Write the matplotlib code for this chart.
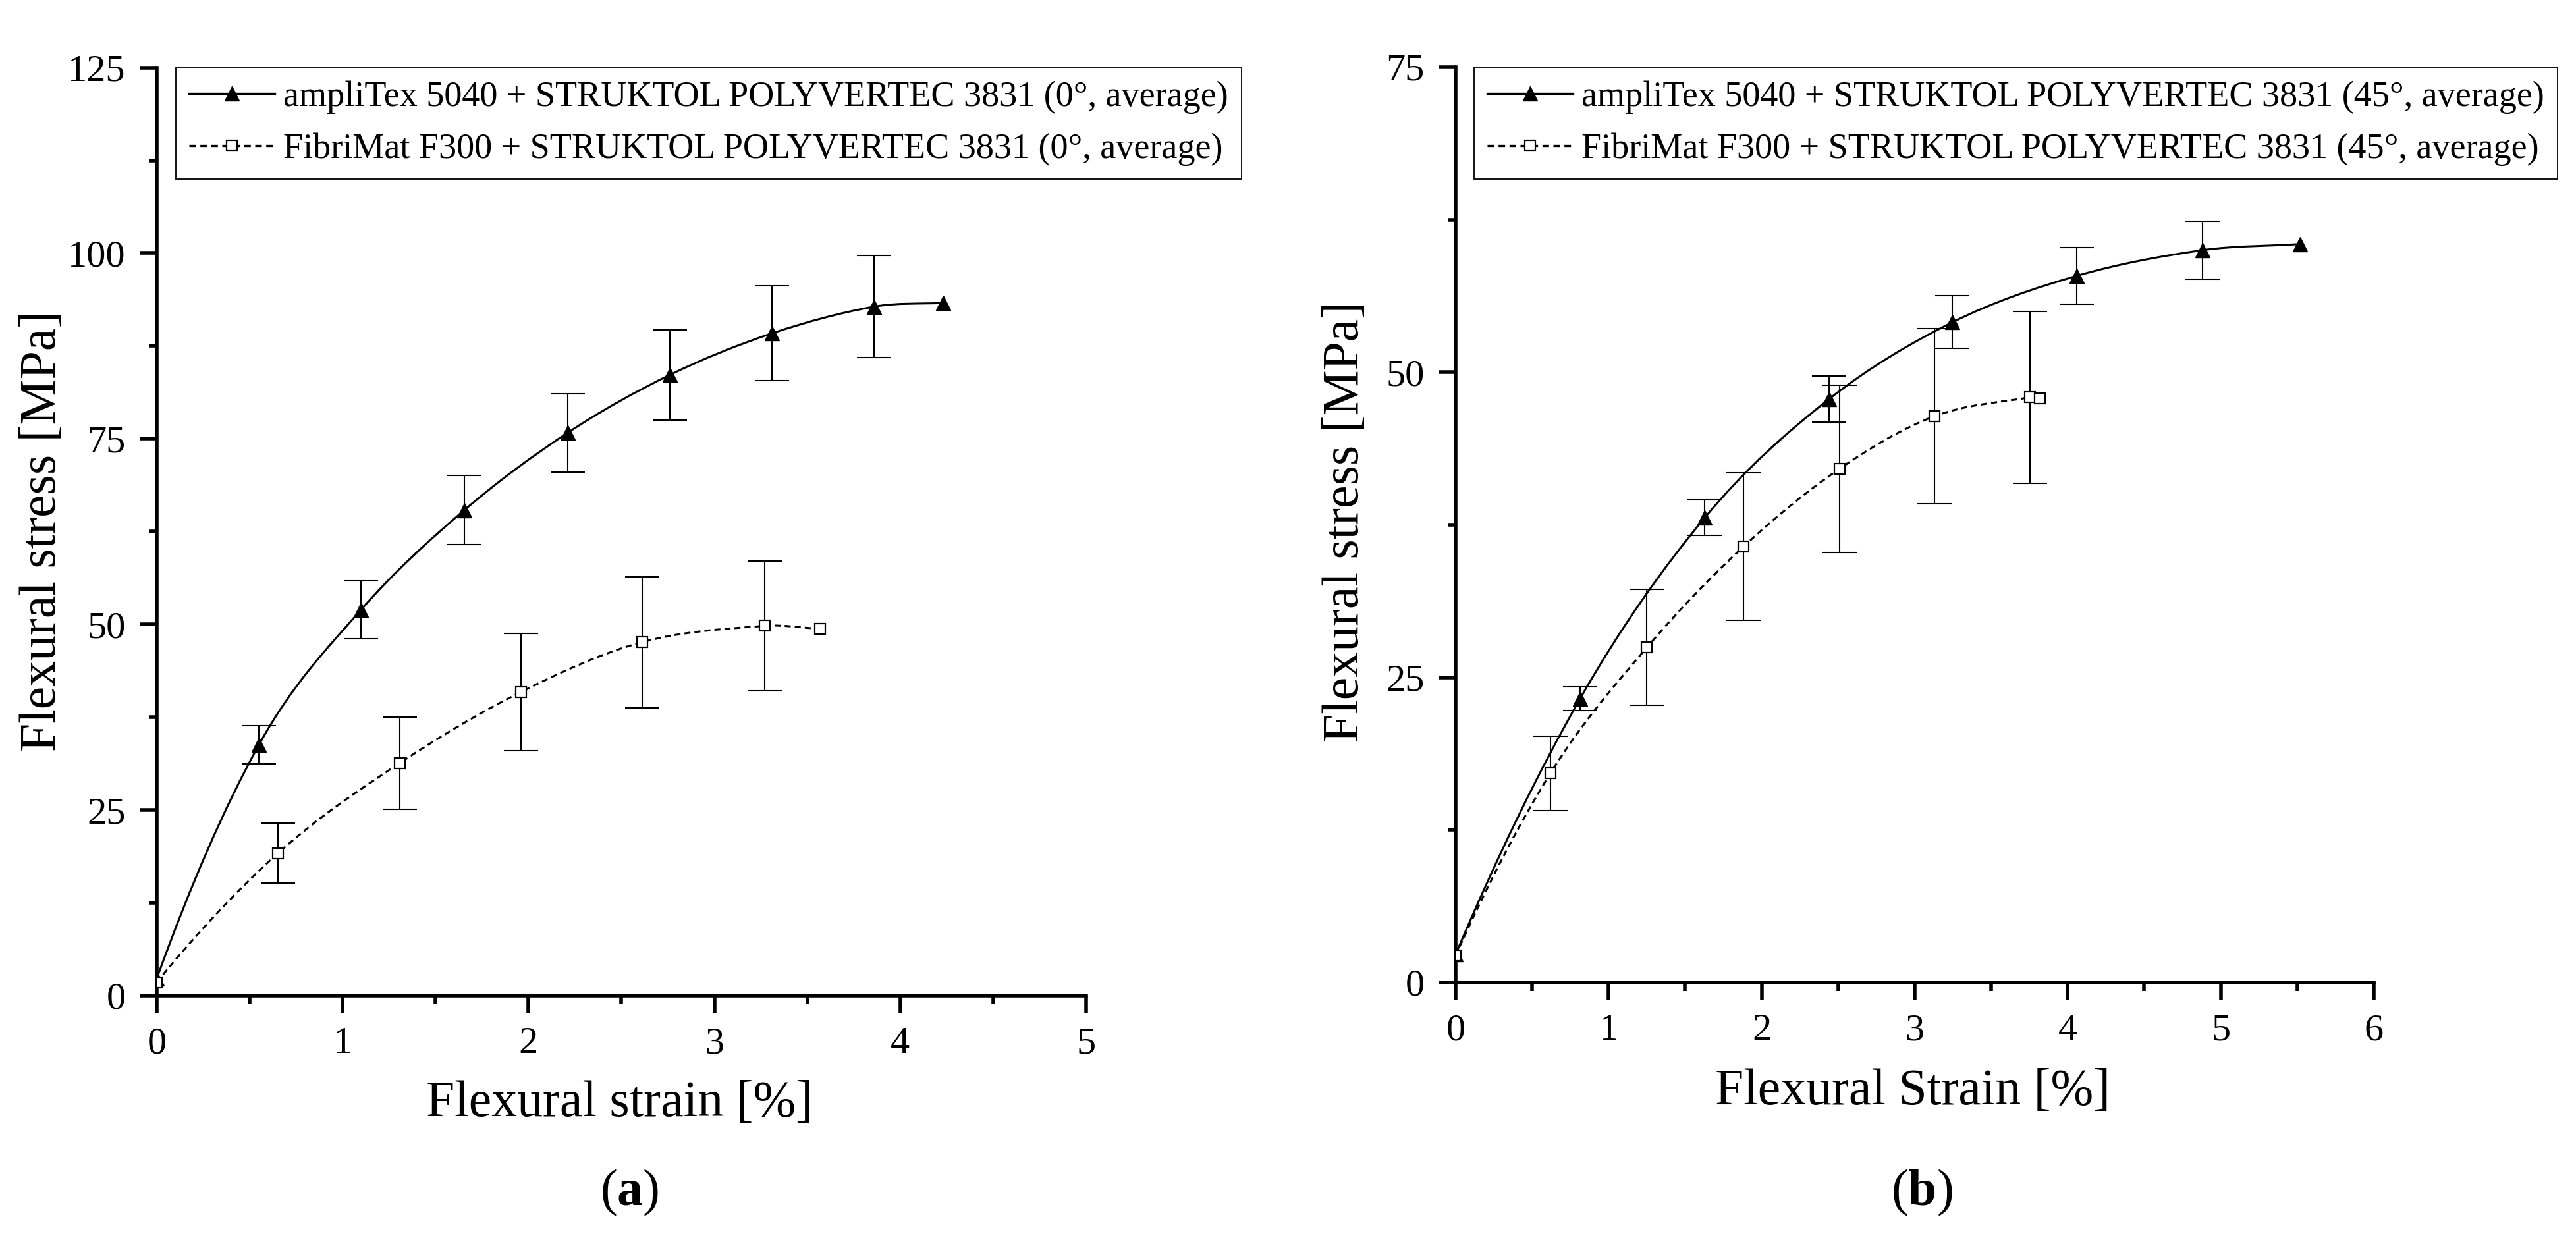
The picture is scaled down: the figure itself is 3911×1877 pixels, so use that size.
import numpy as np
import matplotlib
matplotlib.use("Agg")
import matplotlib.pyplot as plt
from matplotlib.path import Path
from matplotlib.patches import PathPatch
from matplotlib.lines import Line2D
from matplotlib.ticker import MultipleLocator

plt.rcParams["font.family"] = ["Liberation Serif", "DejaVu Serif"]
plt.rcParams["mathtext.fontset"] = "custom"
plt.rcParams["mathtext.rm"] = "Liberation Serif"
plt.rcParams["mathtext.bf"] = "Liberation Serif:bold"

# --- data (a): 0 degree ---
a_amp_x = [0.0, 0.55, 1.10, 1.655, 2.21, 2.76, 3.31, 3.86, 4.23]
a_amp_y = [2.3, 33.8, 52.0, 65.4, 75.8, 83.6, 89.2, 92.8, 93.3]
a_amp_err = [0, 2.6, 3.9, 4.65, 5.3, 6.1, 6.4, 6.9, 0]

a_fib_x = [0.0, 0.653, 1.306, 1.96, 2.61, 3.27, 3.57]
a_fib_y = [1.8, 19.2, 31.3, 40.9, 47.6, 49.8, 49.4]
a_fib_err = [0, 4.0, 6.2, 7.9, 8.85, 8.75, 0]

# --- data (b): 45 degree ---
b_amp_x = [0.0, 0.813, 1.629, 2.44, 3.247, 4.06, 4.88, 5.52]
b_amp_y = [2.3, 23.25, 38.1, 47.8, 54.1, 57.9, 60.0, 60.5]
b_amp_err = [0, 0.95, 1.45, 1.9, 2.15, 2.3, 2.35, 0]

b_fib_x = [0.0, 0.62, 1.25, 1.88, 2.51, 3.13, 3.755, 3.816]
b_fib_y = [2.2, 17.15, 27.45, 35.7, 42.1, 46.4, 47.95, 47.88]
b_fib_err = [0, 3.05, 4.75, 6.05, 6.85, 7.2, 7.05, 0]

amp_label_a = "ampliTex 5040 + STRUKTOL POLYVERTEC 3831 (0°, average)"
fib_label_a = "FibriMat F300 + STRUKTOL POLYVERTEC 3831 (0°, average)"
amp_label_b = "ampliTex 5040 + STRUKTOL POLYVERTEC 3831 (45°, average)"
fib_label_b = "FibriMat F300 + STRUKTOL POLYVERTEC 3831 (45°, average)"

DASH = (0, (3.0, 2.0))
TRI = dict(marker="^", ms=16, mfc="black", mec="black", mew=1.0)
SQR = dict(marker="s", ms=11, mfc="white", mec="black", mew=1.6)


def smooth_path(x, y):
    # cubic hermite through the points, drawn as bezier segments
    x = np.asarray(x, float)
    y = np.asarray(y, float)
    n = len(x)
    m = np.zeros(n)
    h1, h2 = x[1] - x[0], x[2] - x[1]
    m[0] = (-(2 * h1 + h2) / (h1 * (h1 + h2)) * y[0]
            + (h1 + h2) / (h1 * h2) * y[1]
            - h1 / (h2 * (h1 + h2)) * y[2])
    m[-1] = (y[-1] - y[-2]) / (x[-1] - x[-2])
    for i in range(1, n - 1):
        m[i] = (y[i + 1] - y[i - 1]) / (x[i + 1] - x[i - 1])
    verts = [(x[0], y[0])]
    codes = [Path.MOVETO]
    for i in range(n - 1):
        dx = (x[i + 1] - x[i]) / 3.0
        verts += [(x[i] + dx, y[i] + m[i] * dx),
                  (x[i + 1] - dx, y[i + 1] - m[i + 1] * dx),
                  (x[i + 1], y[i + 1])]
        codes += [Path.CURVE4] * 3
    return Path(verts, codes)


def draw_series(ax, x, y, err, ls, mk):
    ax.add_patch(PathPatch(smooth_path(x, y), fill=False, ec="black",
                           lw=2.2, ls=ls, zorder=2))
    x = np.asarray(x); y = np.asarray(y); err = np.asarray(err)
    keep = err > 0
    ax.errorbar(x[keep], y[keep], yerr=err[keep], fmt="none", ecolor="black",
                elinewidth=1.5, capsize=19, capthick=1.5, zorder=3)
    ax.plot(x, y, ls="none", zorder=4, **mk)


def style_axes(ax, xmax, ymax, ymajor):
    ax.set_xlim(0, xmax)
    ax.set_ylim(0, ymax)
    ax.spines["top"].set_visible(False)
    ax.spines["right"].set_visible(False)
    for s in ("left", "bottom"):
        ax.spines[s].set_linewidth(4.0)
    ax.xaxis.set_major_locator(MultipleLocator(1))
    ax.xaxis.set_minor_locator(MultipleLocator(0.5))
    ax.yaxis.set_major_locator(MultipleLocator(ymajor))
    ax.yaxis.set_minor_locator(MultipleLocator(ymajor / 2))
    ax.tick_params(which="major", direction="out", length=19, width=4.0,
                   labelsize=42, pad=15)
    ax.tick_params(which="minor", direction="out", length=9, width=4.0)


def add_legend(ax, lab1, lab2, x_anchor):
    h1 = Line2D([], [], color="black", lw=2.4, **TRI)
    h2 = Line2D([], [], color="black", lw=2.4, ls=DASH, **SQR)
    leg = ax.legend([h1, h2], [lab1, lab2], loc="upper left",
                    bbox_to_anchor=(x_anchor, 1.0), borderaxespad=0,
                    fontsize=39, handlelength=2.4, handletextpad=0.24,
                    borderpad=0.37, labelspacing=0.53, numpoints=1,
                    fancybox=False, framealpha=1, edgecolor="black")
    leg.get_frame().set_linewidth(1.3)


fig = plt.figure(figsize=(39.11, 18.77), dpi=100)
ax1 = fig.add_axes([0.06085, 0.19446, 0.36078, 0.75088])
ax2 = fig.add_axes([0.56507, 0.20512, 0.35643, 0.74054])

# (a)
draw_series(ax1, a_amp_x, a_amp_y, a_amp_err, "-", TRI)
draw_series(ax1, a_fib_x, a_fib_y, a_fib_err, DASH, SQR)
style_axes(ax1, 5, 125, 25)
add_legend(ax1, amp_label_a, fib_label_a, 0.0206)
ax1.set_xlabel("Flexural strain [%]", fontsize=56, va="baseline")
ax1.xaxis.set_label_coords(0.498, -0.1298)
ax1.set_ylabel("Flexural stress [MPa]", fontsize=56, va="center", ha="center")
ax1.yaxis.set_label_coords(-0.1226, 0.5007)

# (b)
draw_series(ax2, b_amp_x, b_amp_y, b_amp_err, "-", TRI)
draw_series(ax2, b_fib_x, b_fib_y, b_fib_err, DASH, SQR)
style_axes(ax2, 6, 75, 25)
add_legend(ax2, amp_label_b, fib_label_b, 0.0201)
ax2.set_xlabel("Flexural Strain [%]", fontsize=56, va="baseline")
ax2.xaxis.set_label_coords(0.498, -0.1331)
ax2.set_ylabel("Flexural stress [MPa]", fontsize=56, va="center", ha="center")
ax2.yaxis.set_label_coords(-0.1198, 0.5036)

fig.text(956 / 3911, 1 - 1830 / 1877, r"$\mathrm{(}\mathbf{a}\mathrm{)}$",
         fontsize=56, ha="center", va="baseline")
fig.text(2918 / 3911, 1 - 1830 / 1877, r"$\mathrm{(}\mathbf{b}\mathrm{)}$",
         fontsize=56, ha="center", va="baseline")

fig.savefig("out.png", dpi=100)
